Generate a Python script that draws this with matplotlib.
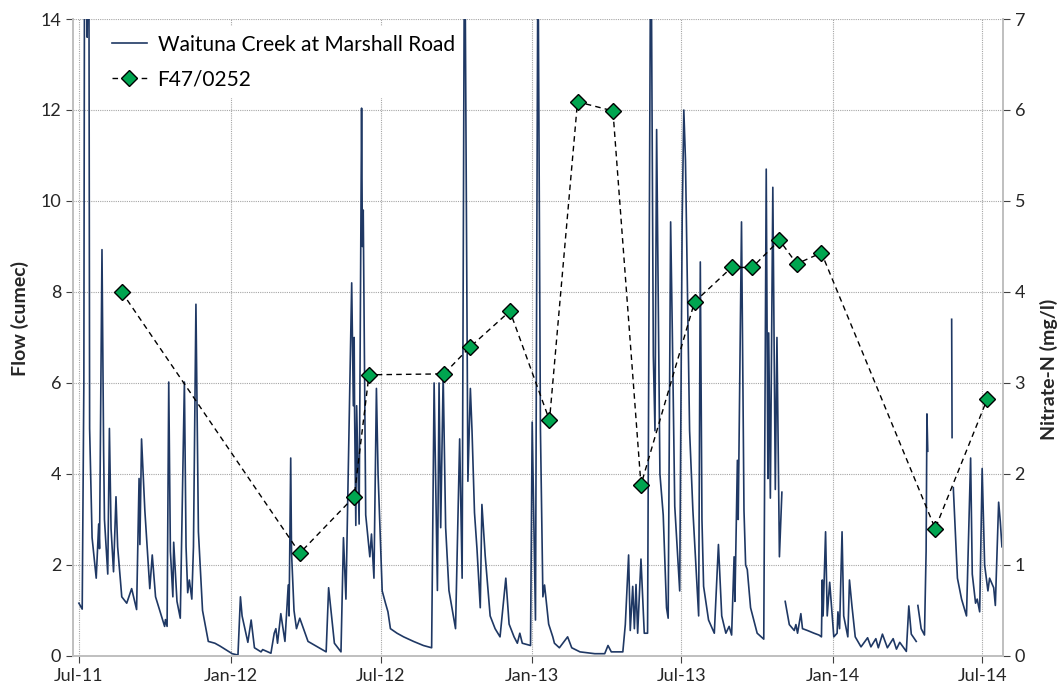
import numpy as np
import pandas as pd
import matplotlib
matplotlib.use("Agg")
import matplotlib.pyplot as plt
import matplotlib.dates as mdates

plt.rcParams['font.family'] = ['Lato', 'DejaVu Sans']

START = pd.Timestamp('2011-07-01')

# flow record, days since 1 Jul 2011 (None = gap in record)
flow_day = [0, 4, 6, 7, 10, 12, 13, 16, 21, 24, 25, 28, 30, 31, 35, 37, 39, 42, 45, 47, 52,
            58, 64, 70, 73, 74, 76, 80, 86, 89, 93, 104, 105, 107, 109, 111, 114, 115, 119, 123, 128, 130, 132,
            134, 137, 139, 142, 145, 150, 157, 165, 171, 186, 193, 196, 198, 205, 209, 213, 221, 223, 233, 237,
            239, 241, 245, 250, 254, 255, 257, 258, 261, 264, 268, 278, 300, 303, 310, 318, 321, 324, 331, 333, 334,
            334.5, 336, 337, 340, 343, 344, 345, 348, 353, 355, 358, 361, 363, 368, 372, 375, 378, 386, 394, 406, 418,
            428, 431, 435, 437, 439, 442, 445, 449, 457, 462, 465, 468, 472, 475, 477, 480, 483, 487, 489, 493,
            499, 505, 511, 518, 522, 528, 532, 535, 538, 548, 550, 554, 557, 560, 563, 565, 570, 575, 577, 583,
            593, 598, 608, 626, 638, 642, 646, 660, 663, 667, 669, 672, 674, 676, 678, 682, 686, 690, 694, 697,
            699, 701, 705, 709, 713, 715, 718, 720, 723, 729, 732, 734, 736, 741, 745, 752, 754, 756, 758, 764, 771,
            776, 780, 785, 789, 792, 795, 796, 799, 800, 804, 807, 809, 811, 815, 823, 831, 834, 836, 837, 839, 842,
            844, 845, 847, 850, 853, 855,
            857, 862, 868, 870, 872, 876, 878, 884, 892, 898, 901, 902, 903, 906, 908, 911, 916, 920, 921, 923,
            926, 928, 933, 935, 938, 942, 949, 957, 961, 967, 970, 975, 981, 988, 992, 996, 1004, 1007, 1010, 1016,
            1017,
            1018, 1022, 1026, 1028, 1029, 1030, 1031,
            1059, 1059.5, 1060,
            1061, 1066, 1071, 1077, 1082, 1084, 1088, 1090, 1093, 1096, 1099, 1103, 1105, 1110, 1112, 1114, 1116, 1118, 1120]
flow = [1.16, 1.03, 6.0, 18.0, 13.6, 17.0, 5.0, 2.6, 1.71, 2.9, 2.36, 8.93, 4.5, 3.0, 1.8, 5.0, 2.8, 1.85, 3.5, 2.4, 1.3,
        1.16, 1.48, 1.02, 3.9, 2.45, 4.77, 3.2, 1.48, 2.22, 1.3, 0.65, 0.8, 0.65, 6.02, 2.3, 1.3, 2.5, 1.2, 0.83, 6.02, 2.4, 1.39,
        1.67, 1.25, 2.4, 7.73, 2.73, 1.0, 0.32, 0.28, 0.22, 0.05, 0.02, 1.3, 0.88, 0.3, 0.79, 0.18, 0.09, 0.14, 0.06, 0.5,
        0.6, 0.28, 0.93, 0.32, 1.56, 0.88, 4.35, 2.27, 1.0, 0.6, 0.83, 0.32, 0.09, 1.5, 0.28, 0.09, 2.6, 1.25, 8.2, 5.5, 7.0,
        5.4, 2.87, 5.5, 2.9, 12.04, 9.0, 9.8, 3.1, 2.18, 2.68, 1.71, 5.88, 4.0, 1.43, 1.16, 0.97, 0.6, 0.5, 0.42, 0.32, 0.23,
        0.18, 6.0, 1.44, 6.0, 2.82, 6.16, 2.82, 1.44, 0.6, 4.77, 1.71, 17.0, 3.84, 5.88, 4.95, 3.15, 2.36, 1.06, 3.33, 2.2,
        0.88, 0.6, 0.42, 1.71, 0.7, 0.42, 0.28, 0.5, 0.28, 0.23, 5.14, 0.79, 16.0, 5.0, 1.3, 1.56, 0.7, 0.42, 0.28, 0.18,
        0.42, 0.18, 0.09, 0.05, 0.05, 0.23, 0.09, 0.09, 0.69, 2.22, 0.56, 1.53, 0.6, 1.57, 0.5, 2.13, 0.5, 0.5, 17.0, 6.6,
        4.95, 11.57, 4.0, 3.1, 1.06, 0.83, 9.54, 7.18, 3.29, 1.43, 9.58, 12.0, 10.9, 4.95, 3.2, 0.88, 8.66, 3.0, 1.53, 0.79, 0.5,
        2.45, 0.88, 0.5, 0.65, 0.46, 2.18, 1.2, 4.3, 3.0, 9.54, 3.2, 2.0, 1.9, 1.06, 0.5, 0.37, 10.7, 3.9, 7.1, 3.47, 10.3,
        5.7, 3.66, 7.0, 2.18, 3.6, None,
        1.2, 0.69, 0.56, 0.69, 0.5, 0.93, 0.6, 0.56, 0.5, 0.46, 0.42, 1.67, 0.88, 2.73, 0.88, 1.62, 0.42, 0.5, 0.97, 0.6,
        2.73, 0.88, 0.42, 1.67, 1.1, 0.42, 0.2, 0.4, 0.2, 0.38, 0.18, 0.48, 0.18, 0.38, 0.15, 0.3, 0.1, 1.1, 0.48, 0.32,
        None,
        1.11, 0.6, 0.46, 2.3, 5.32, 4.5, None,
        7.4, 4.8, None,
        3.7, 1.71, 1.25, 0.88, 4.35, 1.8, 1.16, 1.25, 0.97, 4.12, 2.0, 1.43, 1.71, 1.5, 1.11, 2.27, 3.38, 2.96, 2.4]

# groundwater nitrate samples, bore F47/0252
nitrate_day = [52, 268, 334, 352, 443, 474, 523, 571, 605, 648, 682, 747, 792, 817, 850, 871, 901, 1039, 1102]
nitrate = [4.0, 1.13, 1.75, 3.09, 3.1, 3.39, 3.79, 2.59, 6.09, 5.99, 1.88, 3.89, 4.27, 4.27, 4.57, 4.31, 4.43, 1.40, 2.82]

flow_dates = START + pd.to_timedelta(flow_day, unit='D')
flow_vals = np.array([np.nan if v is None else v for v in flow], dtype=float)
nitrate_dates = START + pd.to_timedelta(nitrate_day, unit='D')

fig = plt.figure(figsize=(10.6, 6.91), dpi=100)
ax = fig.add_axes([0.069, 0.0507, 0.877, 0.9218])
ax2 = ax.twinx()

line_flow, = ax.plot(flow_dates, flow_vals, color='#1F3864', linewidth=1.2,
                     label='Waituna Creek at Marshall Road')
line_no3, = ax2.plot(nitrate_dates, nitrate, color='black', linestyle=(0, (4, 3)), linewidth=1.0,
                     marker='D', markersize=8, markerfacecolor='#00A550', markeredgecolor='black',
                     markeredgewidth=1.0, label='F47/0252')

ax.set_xlim(START - pd.Timedelta(days=7), START + pd.Timedelta(days=1121))
ax.set_ylim(0, 14)
ax2.set_ylim(0, 7)
ax.set_yticks(range(0, 15, 2))
ax2.set_yticks(range(0, 8))

ax.xaxis.set_major_locator(mdates.MonthLocator(bymonth=[1, 7]))
ax.xaxis.set_major_formatter(mdates.DateFormatter('%b-%y'))

ax.grid(True, color='#A6A6A6', linestyle=(0, (1, 1)), linewidth=0.8)
ax.set_axisbelow(True)

for a in (ax, ax2):
    a.spines['top'].set_visible(False)
    for s in ('left', 'right', 'bottom'):
        a.spines[s].set_color('#BFBFBF')
        a.spines[s].set_linewidth(1.2)
    a.tick_params(colors='#404040', labelcolor='#262626', labelsize=13, length=5, width=0.8)

ax.set_ylabel('Flow (cumec)', fontsize=14, fontweight='bold', color='#262626')
ax.yaxis.set_label_coords(-0.047, 0.53)
ax2.set_ylabel('Nitrate-N (mg/l)', fontsize=14, fontweight='bold', color='#262626', rotation=90)
ax2.yaxis.set_label_coords(1.040, 0.45)

leg = ax2.legend(handles=[line_flow, line_no3], loc='upper left', bbox_to_anchor=(0.028, 0.995),
                 frameon=True, fontsize=15, handlelength=1.7, handletextpad=0.5,
                 borderaxespad=0.2, labelspacing=0.7)
leg.get_frame().set_facecolor('white')
leg.get_frame().set_edgecolor('none')
leg.get_frame().set_alpha(1.0)

fig.savefig('out.png', dpi=100)
